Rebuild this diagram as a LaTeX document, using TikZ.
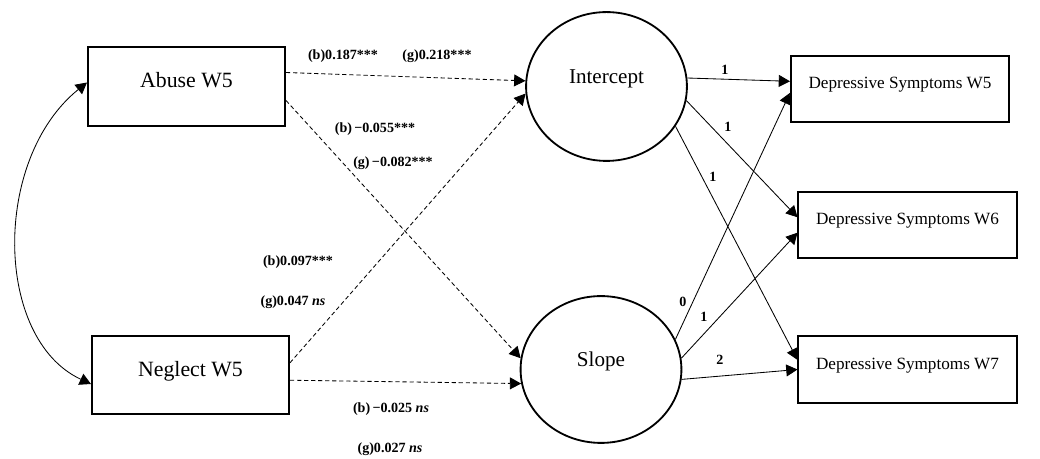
\documentclass[tikz,border=0pt]{standalone}
\usepackage{fontspec}
\setmainfont{Liberation Serif}
\usetikzlibrary{arrows.meta,shapes.geometric}

\begin{document}
\begin{tikzpicture}[x=0.025cm,y=0.025cm,
  obs/.style={draw,line width=1.4pt,inner sep=0pt,minimum width=4.925cm,minimum height=1.97cm,
    text height=11pt,text depth=9pt,font=\fontsize{15.5}{18}\selectfont},
  dep/.style={draw,line width=1.4pt,inner sep=0pt,minimum width=5.45cm,minimum height=1.66cm,
    text height=9pt,text depth=9pt,font=\fontsize{12.2}{14}\selectfont},
  latent/.style={draw,ellipse,line width=1.3pt,inner sep=0pt,minimum width=4.02cm,
    text height=10pt,text depth=13.6pt,font=\fontsize{15}{18}\selectfont},
  load/.style={-{Triangle[length=8pt,width=8.5pt]},line width=0.6pt},
  reg/.style={load,dash pattern=on 3pt off 2pt},
  coef/.style={font=\bfseries\fontsize{10}{12}\selectfont,inner sep=1pt}]
\useasboundingbox (0,0) rectangle (1040,459);

% Predictors
\node[obs] (abuse) at (186.5,372.5) {Abuse W5};
\node[obs] (neglect) at (190.5,84) {Neglect W5};

% Growth factors
\node[latent,minimum height=3.72cm] (icpt) at (606.5,372.5) {Intercept};
\node[latent,minimum height=3.67cm] (slope) at (601,89.5) {Slope};

% Outcomes
\node[dep] (dsA) at (900,370) {Depressive Symptoms W5};
\node[dep] (dsB) at (907.5,234) {Depressive Symptoms W6};
\node[dep] (dsC) at (907.5,89.5) {Depressive Symptoms W7};

% Covariance
\draw[{Triangle[length=8pt,width=8.5pt]}-{Triangle[length=8pt,width=8.5pt]},line width=0.6pt]
  (abuse.west) ++(0,4) coordinate (covA)
  (neglect.west) ++(0,-9) coordinate (covB)
  (covA) .. controls (-8,300) and (-6,120) .. (covB);

% Regressions
\draw[reg] (abuse.8) -- (icpt.176);
\draw[reg] (abuse.-8) -- (slope.172);
\draw[reg] (neglect.7) -- (icpt.185);
\draw[reg] (neglect.-3.5) -- (slope.190);

% Loadings
\draw[load] (icpt.6) -- (dsA.176);
\draw[load] (icpt.-10) -- (dsB.176);
\draw[load] (icpt.-30) -- (dsC.175);
\draw[load] (slope.22) -- (dsA.182);
\draw[load] (slope.8) -- (dsB.184);
\draw[load] (slope.-7.5) -- (dsC.180);

% Coefficients
\node[coef] (bAI) at (343,403) {(b)0.187***};
\node[coef] (gAI) at (437,403) {(g)0.218***};
\node[coef] (bAS) at (375,330) {(b)\,−0.055***};
\node[coef] (gAS) at (393,296) {(g)\,−0.082***};
\node[coef] (bNI) at (298,197) {(b)0.097***};
\node[coef] (gNI) at (293,157) {(g)0.047 \textit{ns}};
\node[coef] (bNS) at (391,50) {(b)\,−0.025 \textit{ns}};
\node[coef] (gNS) at (390,10) {(g)0.027 \textit{ns}};

\node[coef] (lI1) at (725,389) {1};
\node[coef] (lI2) at (728,332) {1};
\node[coef] (lI3) at (713,282) {1};
\node[coef] (lS1) at (683,157) {0};
\node[coef] (lS2) at (704,142) {1};
\node[coef] (lS3) at (720,99) {2};
\end{tikzpicture}
\end{document}
